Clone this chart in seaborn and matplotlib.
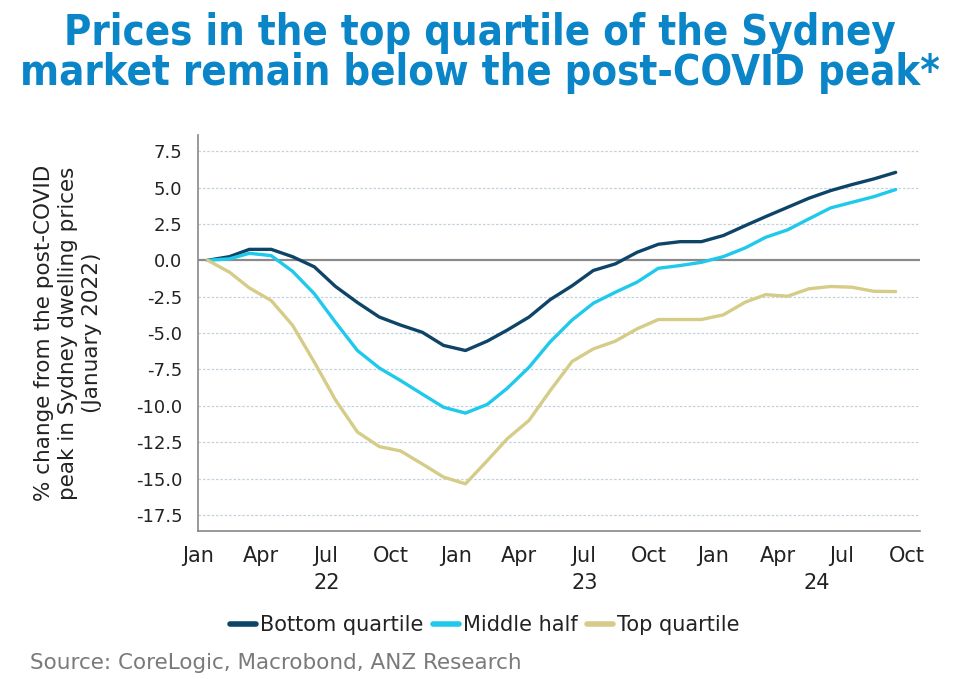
import numpy as np
import pandas as pd
import matplotlib
matplotlib.use("Agg")
import matplotlib.pyplot as plt
import matplotlib.dates as mdates
import matplotlib.transforms as mtransforms
from matplotlib.lines import Line2D
import seaborn as sns

# ---- data (monthly, Jan 2022 - Sep 2024, plotted mid-month) ----
months = pd.date_range("2022-01-01", periods=33, freq="MS") + pd.Timedelta(days=14)
bottom_quartile = [0.0, 0.25, 0.75, 0.75, 0.25, -0.45, -1.8, -2.9, -3.9, -4.45, -4.95, -5.85,
                   -6.2, -5.55, -4.8, -3.9, -2.7, -1.75, -0.7, -0.25, 0.55, 1.1, 1.28, 1.28,
                   1.7, 2.38, 3.0, 3.64, 4.26, 4.79, 5.2, 5.59, 6.04]
middle_half = [0.0, 0.1, 0.48, 0.32, -0.75, -2.3, -4.26, -6.2, -7.4, -8.26, -9.2, -10.1,
               -10.5, -9.9, -8.8, -7.35, -5.6, -4.1, -2.95, -2.2, -1.5, -0.55, -0.36, -0.14,
               0.25, 0.85, 1.58, 2.09, 2.84, 3.6, 3.98, 4.37, 4.86]
top_quartile = [0.0, -0.82, -1.9, -2.77, -4.45, -7.0, -9.6, -11.8, -12.8, -13.1, -14.0, -14.9,
                -15.36, -13.76, -12.27, -11.0, -8.95, -6.95, -6.09, -5.56, -4.71, -4.07, -4.07, -4.07,
                -3.75, -2.88, -2.36, -2.47, -1.96, -1.8, -1.85, -2.13, -2.15]
series_names = ["Bottom quartile", "Middle half", "Top quartile"]
y_ticks = [7.5, 5.0, 2.5, 0.0, -2.5, -5.0, -7.5, -10.0, -12.5, -15.0, -17.5]
year_labels = ["22", "23", "24"]

colors = {"Bottom quartile": "#0d4467", "Middle half": "#1ec9ec", "Top quartile": "#d5cc88"}

df = pd.concat([
    pd.DataFrame({"date": months, "value": vals, "series": name})
    for name, vals in zip(series_names, [bottom_quartile, middle_half, top_quartile])
])

sns.set_theme(style="white")
plt.rcParams["font.family"] = ["DejaVu Sans"]
plt.rcParams["axes.unicode_minus"] = False

fig = plt.figure(figsize=(9.6, 6.79), dpi=100)
ax = fig.add_axes([0.206, 0.218, 0.752, 0.583])

for y in y_ticks:
    if y == 0:
        ax.axhline(0, color="#8a8a8a", lw=1.6, zorder=1)
    else:
        ax.axhline(y, color="#c3d2dc", lw=0.9, ls=(0, (2, 1.5)), zorder=0)

sns.lineplot(data=df, x="date", y="value", hue="series", palette=colors,
             linewidth=2.4, ax=ax, legend=False, zorder=3)

x0 = mdates.date2num(pd.Timestamp("2022-01-01"))
x1 = mdates.date2num(pd.Timestamp("2024-10-19"))
ax.set_xlim(x0, x1)
ax.set_ylim(-18.6, 8.6)
ax.set_yticks(y_ticks)
ax.set_yticklabels([f"{v:.1f}" for v in y_ticks])
ax.xaxis.set_major_locator(mdates.MonthLocator(bymonth=[1, 4, 7, 10]))
ax.xaxis.set_major_formatter(mdates.DateFormatter("%b"))
ax.tick_params(axis="both", colors="#222222", length=5, width=1, direction="out", pad=6)
ax.tick_params(axis="y", labelsize=13)
ax.tick_params(axis="x", labelsize=15)
ax.tick_params(axis="both", color="#888888")
ax.set_xlabel("")
ax.set_ylabel("% change from the post-COVID\npeak in Sydney dwelling prices\n(January 2022)",
              fontsize=15.5, color="#222222", linespacing=1.25)
ax.yaxis.set_label_coords(-0.133, 0.5)
for s in ["top", "right"]:
    ax.spines[s].set_visible(False)
for s in ["left", "bottom"]:
    ax.spines[s].set_color("#888888")
    ax.spines[s].set_linewidth(1.2)

# year labels under the month labels
trans = mtransforms.blended_transform_factory(ax.transData, ax.transAxes)
bounds = [pd.Timestamp("2022-01-01"), pd.Timestamp("2023-01-01"), pd.Timestamp("2024-01-01")]
ends = [pd.Timestamp("2023-01-01"), pd.Timestamp("2024-01-01"), None]
for lab, b, e in zip(year_labels, bounds, ends):
    xb = mdates.date2num(b)
    xe = x1 if e is None else mdates.date2num(e)
    ax.text((xb + xe) / 2, -0.132, lab, transform=trans, ha="center", va="center",
            fontsize=15, color="#222222")

# legend
handles = [Line2D([0], [0], color=colors[n], lw=4) for n in series_names]
fig.legend(handles, series_names, loc="center", bbox_to_anchor=(0.505, 0.079),
           ncol=3, frameon=False, fontsize=15, handlelength=1.25, handletextpad=0.2,
           columnspacing=0.45, labelcolor="#222222")

# title
fig.text(0.5, 0.951, "Prices in the top quartile of the Sydney", ha="center", va="center",
         fontsize=30, fontweight="bold", color="#0a85c7", fontstretch="condensed")
fig.text(0.5, 0.892, "market remain below the post-COVID peak*", ha="center", va="center",
         fontsize=30, fontweight="bold", color="#0a85c7", fontstretch="condensed")

fig.text(0.031, 0.023, "Source: CoreLogic, Macrobond, ANZ Research", ha="left", va="center",
         fontsize=15.5, color="#7a7a7a")

fig.savefig("out.png", dpi=100, facecolor="white")
